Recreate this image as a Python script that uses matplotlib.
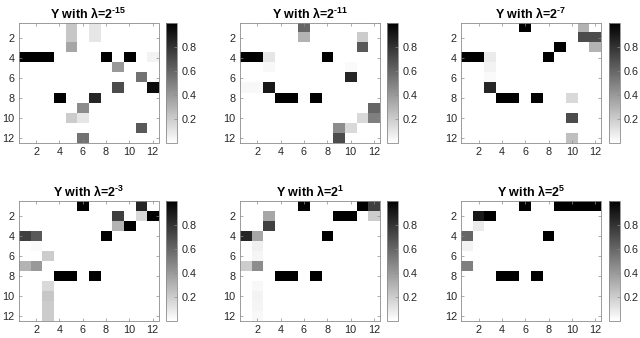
import numpy as np
import matplotlib
matplotlib.use("Agg")
import matplotlib.pyplot as plt

plt.rcParams['font.family'] = ['Liberation Sans', 'DejaVu Sans']
plt.rcParams['mathtext.fontset'] = 'custom'
plt.rcParams['mathtext.rm'] = 'Liberation Sans'
plt.rcParams['mathtext.bf'] = 'Liberation Sans:bold'
plt.rcParams['mathtext.it'] = 'Liberation Sans:italic'

exponents = ['\u201015', '\u201011', '\u20107', '\u20103', '1', '5']
titles = ['Y with \u03bb=2$^{\\mathbf{%s}}$' % e for e in exponents]

Y_m15 = [
    [0, 0, 0, 0, .22, 0, .10, 0, 0, 0, 0, 0],
    [0, 0, 0, 0, .22, 0, .10, 0, 0, 0, 0, 0],
    [0, 0, 0, 0, .35, 0, 0, 0, 0, 0, 0, 0],
    [1, 1, 1, 0, 0, 0, 0, 1, 0, 1, 0, .05],
    [0, 0, 0, 0, 0, 0, 0, 0, .40, 0, 0, 0],
    [0, 0, 0, 0, 0, 0, 0, 0, 0, 0, .55, 0],
    [0, 0, 0, 0, 0, 0, 0, 0, .70, 0, 0, .95],
    [0, 0, 0, 1, 0, 0, .85, 0, 0, 0, 0, 0],
    [0, 0, 0, 0, 0, .45, 0, 0, 0, 0, 0, 0],
    [0, 0, 0, 0, .20, .10, 0, 0, 0, 0, 0, 0],
    [0, 0, 0, 0, 0, 0, 0, 0, 0, 0, .65, 0],
    [0, 0, 0, 0, 0, .55, 0, 0, 0, 0, 0, 0],
]
Y_m11 = [
    [0, 0, 0, 0, 0, .60, 0, 0, 0, 0, 0, 0],
    [0, 0, 0, 0, 0, .30, 0, 0, 0, 0, .20, 0],
    [0, 0, 0, 0, 0, 0, 0, 0, 0, 0, .65, 0],
    [1, 1, .10, 0, 0, 0, 0, 1, 0, 0, 0, 0],
    [0, 0, .03, 0, 0, 0, 0, 0, 0, .02, 0, 0],
    [0, 0, 0, 0, 0, 0, 0, 0, 0, .85, 0, 0],
    [.03, .03, .90, 0, 0, 0, 0, 0, 0, 0, 0, 0],
    [0, 0, 0, 1, 1, 0, 1, 0, 0, 0, 0, 0],
    [0, 0, 0, 0, 0, 0, 0, 0, 0, 0, 0, .60],
    [0, 0, 0, 0, 0, 0, 0, 0, 0, 0, .15, .50],
    [0, 0, 0, 0, 0, 0, 0, 0, .45, .15, 0, 0],
    [0, 0, 0, 0, 0, 0, 0, 0, .70, 0, 0, 0],
]
Y_m7 = [
    [0, 0, 0, 0, 0, 1, 0, 0, 0, 0, .30, 0],
    [0, 0, 0, 0, 0, 0, 0, 0, 0, 0, .70, .70],
    [0, 0, 0, 0, 0, 0, 0, 0, 1, 0, 0, .30],
    [1, 1, .08, 0, 0, 0, 0, 1, 0, 0, 0, 0],
    [0, 0, .05, 0, 0, 0, 0, 0, 0, 0, 0, 0],
    [0, 0, .02, 0, 0, 0, 0, 0, 0, 0, 0, 0],
    [0, 0, .85, 0, 0, 0, 0, 0, 0, 0, 0, 0],
    [0, 0, 0, 1, 1, 0, 1, 0, 0, .15, 0, 0],
    [0, 0, 0, 0, 0, 0, 0, 0, 0, 0, 0, 0],
    [0, 0, 0, 0, 0, 0, 0, 0, 0, .70, 0, 0],
    [0, 0, 0, 0, 0, 0, 0, 0, 0, 0, 0, 0],
    [0, 0, 0, 0, 0, 0, 0, 0, 0, .25, 0, 0],
]
Y_m3 = [
    [0, 0, 0, 0, 0, 1, 0, 0, 0, 0, .85, 0],
    [0, 0, 0, 0, 0, 0, 0, 0, .75, 0, .15, 1],
    [0, 0, 0, 0, 0, 0, 0, 0, .30, 1, 0, 0],
    [.75, .65, 0, 0, 0, 0, 0, 1, 0, 0, 0, 0],
    [0, .02, 0, 0, 0, 0, 0, 0, 0, 0, 0, 0],
    [0, 0, .20, 0, 0, 0, 0, 0, 0, 0, 0, 0],
    [.30, .40, 0, 0, 0, 0, 0, 0, 0, 0, 0, 0],
    [0, 0, 0, 1, 1, 0, 1, 0, 0, 0, 0, 0],
    [0, 0, .15, 0, 0, 0, 0, 0, 0, 0, 0, 0],
    [0, 0, .22, 0, 0, 0, 0, 0, 0, 0, 0, 0],
    [0, 0, .20, 0, 0, 0, 0, 0, 0, 0, 0, 0],
    [0, 0, .20, 0, 0, 0, 0, 0, 0, 0, 0, 0],
]
Y_p1 = [
    [0, 0, 0, 0, 0, 1, 0, 0, 0, 0, 1, .75],
    [0, 0, .35, 0, 0, 0, 0, 0, 1, 1, 0, .20],
    [0, 0, .75, 0, 0, 0, 0, 0, 0, 0, 0, 0],
    [.85, .35, 0, 0, 0, 0, 0, 1, 0, 0, 0, 0],
    [0, .06, 0, 0, 0, 0, 0, 0, 0, 0, 0, 0],
    [0, .04, 0, 0, 0, 0, 0, 0, 0, 0, 0, 0],
    [.20, .45, 0, 0, 0, 0, 0, 0, 0, 0, 0, 0],
    [0, 0, 0, 1, 1, 0, 1, 0, 0, 0, 0, 0],
    [0, .03, 0, 0, 0, 0, 0, 0, 0, 0, 0, 0],
    [0, .05, 0, 0, 0, 0, 0, 0, 0, 0, 0, 0],
    [0, .04, 0, 0, 0, 0, 0, 0, 0, 0, 0, 0],
    [0, .03, 0, 0, 0, 0, 0, 0, 0, 0, 0, 0],
]
Y_p5 = [
    [0, 0, 0, 0, 0, 1, 0, 0, 1, 1, 1, 1],
    [0, .90, 1, 0, 0, 0, 0, 0, 0, 0, 0, 0],
    [0, .08, 0, 0, 0, 0, 0, 0, 0, 0, 0, 0],
    [.60, 0, 0, 0, 0, 0, 0, 1, 0, 0, 0, 0],
    [.05, 0, 0, 0, 0, 0, 0, 0, 0, 0, 0, 0],
    [0, 0, 0, 0, 0, 0, 0, 0, 0, 0, 0, 0],
    [.50, 0, 0, 0, 0, 0, 0, 0, 0, 0, 0, 0],
    [0, 0, 0, 1, 1, 0, 1, 0, 0, 0, 0, 0],
    [0, 0, 0, 0, 0, 0, 0, 0, 0, 0, 0, 0],
    [0, 0, 0, 0, 0, 0, 0, 0, 0, 0, 0, 0],
    [0, 0, 0, 0, 0, 0, 0, 0, 0, 0, 0, 0],
    [0, 0, 0, 0, 0, 0, 0, 0, 0, 0, 0, 0],
]
matrices = [Y_m15, Y_m11, Y_m7, Y_m3, Y_p1, Y_p5]
ticks = [2, 4, 6, 8, 10, 12]
cbar_ticks = [0.2, 0.4, 0.6, 0.8]

W, H = 640, 338
fig = plt.figure(figsize=(W / 100, H / 100), dpi=100)

lefts = [18.5, 239.7, 461.0]
tops = [23.0, 200.7]
aw, ah = 140.0, 120.0
frame = '#8c8c8c'
txt = '#262626'

for k, M in enumerate(matrices):
    r, c = divmod(k, 3)
    x0, y0 = lefts[c], tops[r]
    ax = fig.add_axes([x0 / W, (H - y0 - ah) / H, aw / W, ah / H])
    im = ax.imshow(np.array(M), cmap='gray_r', vmin=0, vmax=1, aspect='auto',
                   interpolation='nearest', extent=(0.5, 12.5, 12.5, 0.5))
    ax.set_xticks(ticks)
    ax.set_yticks(ticks)
    ax.tick_params(direction='in', length=2, width=0.5, color=frame, labelsize=7.8,
                   labelcolor=txt, top=True, right=True, pad=3)
    for s in ax.spines.values():
        s.set_color(frame)
        s.set_linewidth(0.6)
    ax.set_title(titles[k], fontsize=9, fontweight='bold', color='black', pad=3)

    cax = fig.add_axes([(x0 + aw + 7.5) / W, (H - y0 - ah) / H, 11 / W, ah / H])
    cb = fig.colorbar(im, cax=cax, ticks=cbar_ticks)
    cb.outline.set_edgecolor(frame)
    cb.outline.set_linewidth(0.6)
    cax.tick_params(direction='in', length=2, width=0.5, color=frame, labelsize=7.8,
                    labelcolor=txt, pad=3)

fig.savefig('out.png', dpi=100)
